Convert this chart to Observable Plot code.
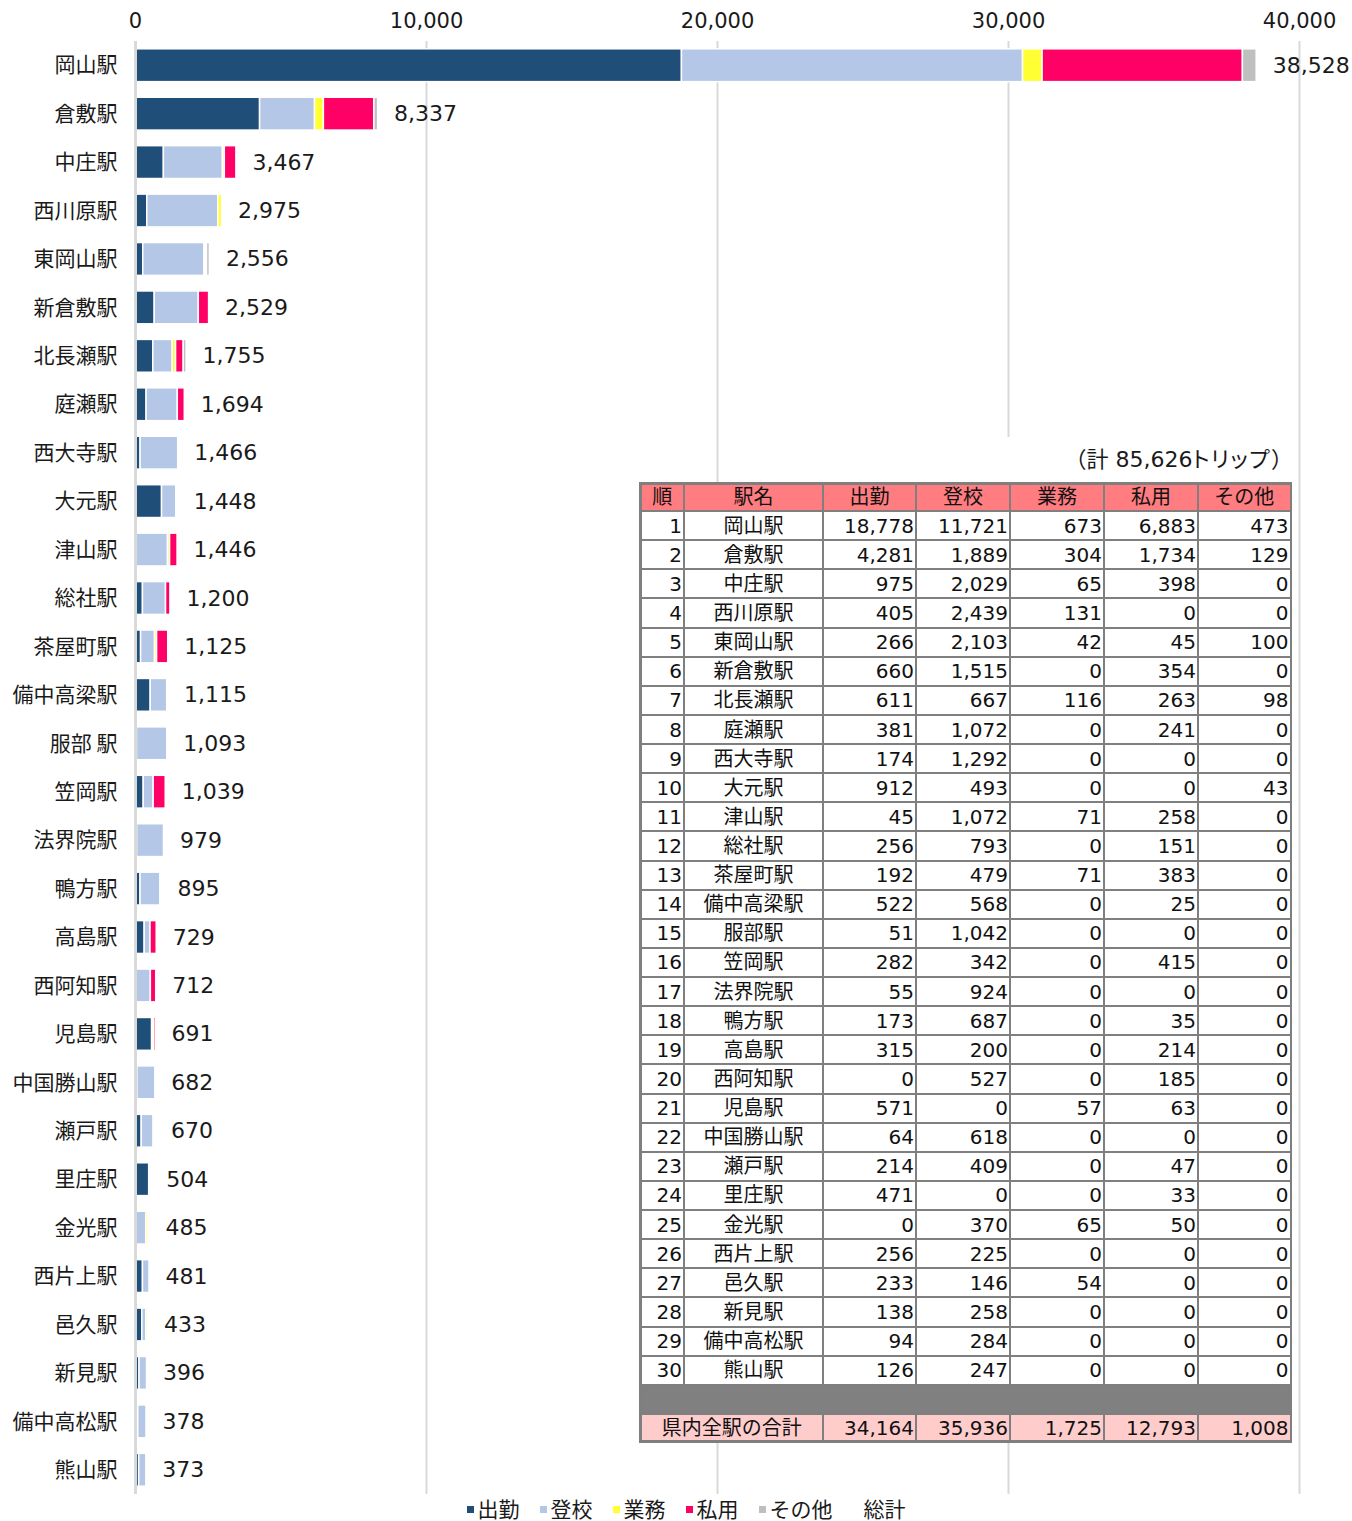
<!DOCTYPE html>
<html><head><meta charset="utf-8">
<script src="https://cdn.jsdelivr.net/npm/d3@7"></script>
<script src="https://cdn.jsdelivr.net/npm/@observablehq/plot@0.6"></script>
<style>
body{margin:0;background:#fff;}
#wrap{position:relative;width:1352px;height:1521px;overflow:hidden;font-family:"DejaVu Sans","Noto Sans CJK JP",sans-serif;color:#1a1a1a;}
#chart{position:absolute;left:0;top:0;}
.cell{position:absolute;box-sizing:border-box;display:flex;align-items:center;font-size:20px;line-height:1;color:#111;white-space:nowrap;}
#legend{position:absolute;left:10px;top:1497px;width:1352px;height:22px;display:flex;justify-content:center;align-items:center;font-family:"Noto Sans CJK JP",sans-serif;font-size:21px;line-height:1;color:#1a1a1a;}
#legend .it{display:flex;align-items:center;margin:0 10px;}
#legend .sw{width:7px;height:7px;margin-right:4px;margin-top:3px;}
#title{position:absolute;left:987px;top:437px;width:306px;height:45px;background:#fff;display:flex;align-items:center;justify-content:flex-end;font-size:22px;line-height:1;}
#title .k{font-feature-settings:"palt";letter-spacing:1.5px;}
</style></head><body><div id="wrap"><div id="chart"></div></div>
<script>
// ---- data ----
const stations = ["岡山駅","倉敷駅","中庄駅","西川原駅","東岡山駅","新倉敷駅","北長瀬駅","庭瀬駅","西大寺駅","大元駅","津山駅","総社駅","茶屋町駅","備中高梁駅","服部 駅","笠岡駅","法界院駅","鴨方駅","高島駅","西阿知駅","児島駅","中国勝山駅","瀬戸駅","里庄駅","金光駅","西片上駅","邑久駅","新見駅","備中高松駅","熊山駅"];
const commute  = [18778,4281,975,405,266,660,611,381,174,912,45,256,192,522,51,282,55,173,315,0,571,64,214,471,0,256,233,138,94,126];
const school   = [11721,1889,2029,2439,2103,1515,667,1072,1292,493,1072,793,479,568,1042,342,924,687,200,527,0,618,409,0,370,225,146,258,284,247];
const business = [673,304,65,131,42,0,116,0,0,0,71,0,71,0,0,0,0,0,0,0,57,0,0,0,65,0,54,0,0,0];
const privateUse = [6883,1734,398,0,45,354,263,241,0,0,258,151,383,25,0,415,0,35,214,185,63,0,47,33,50,0,0,0,0,0];
const other    = [473,129,0,0,100,0,98,0,0,43,0,0,0,0,0,0,0,0,0,0,0,0,0,0,0,0,0,0,0,0];
const purposes = ["出勤","登校","業務","私用","その他"];
const colors   = ["#1F4E79","#B4C7E7","#FFFF33","#FF0066","#BFBFBF"];
const prefTotals = [34164,35936,1725,12793,1008];
const grandTotalParts = ["（計 85,626", "トリップ", "）"];
const totalRowLabel = "県内全駅の合計";
const tableHeader = ["順","駅名","出勤","登校","業務","私用","その他"];
const xTicks = [0,10000,20000,30000,40000];

// ---- build rows ----
const series = [commute, school, business, privateUse, other];
const rows = [];
stations.forEach((s,i)=>{
  purposes.forEach((p,k)=>{ if(series[k][i]>0) rows.push({station:s, purpose:p, value:series[k][i]}); });
});
const totals = stations.map((s,i)=>({station:s, total:d3.sum(series,a=>a[i])}));
const fmt = d3.format(",");

const plot = Plot.plot({
  width:1352, height:1495,
  marginTop:41, marginBottom:1, marginLeft:135, marginRight:53,
  x:{domain:[0,40000], axis:null},
  y:{domain:stations, padding:0, round:false, axis:null},
  color:{domain:purposes, range:colors},
  style:{fontFamily:'"DejaVu Sans","Noto Sans CJK JP",sans-serif', background:"white", color:"#1a1a1a", overflow:"visible"},
  marks:[
    Plot.ruleX(xTicks.slice(1), {stroke:"#d9d9d9", strokeWidth:2}),
    Plot.barX(rows, {x:"value", y:"station", fill:"purpose", stroke:"white", strokeWidth:1.5, insetTop:7.8, insetBottom:7.8}),
    Plot.ruleX([0], {stroke:"#d9d9d9", strokeWidth:3}),
    Plot.axisX(xTicks, {anchor:"top", tickSize:0, tickPadding:14, tickFormat:fmt, fontSize:21, label:null}),
    Plot.axisY(stations, {anchor:"left", tickSize:0, tickPadding:18, fontSize:21, label:null, fontFamily:'"Noto Sans CJK JP",sans-serif'}),
    Plot.text(totals, {x:"total", y:"station", text:d=>fmt(d.total), textAnchor:"start", dx:16, fontSize:22, fill:"#1a1a1a"})
  ]
});
document.getElementById("chart").appendChild(plot);

// ---- table ----
const wrap = document.getElementById("wrap");
const colX = [639,684,823,916,1010,1104,1198,1292];
const top0 = 482, rowH = 961/33;
const bg = document.createElement("div");
Object.assign(bg.style,{position:"absolute",left:colX[0]+"px",top:top0+"px",width:(colX[7]-colX[0])+"px",height:(rowH*33)+"px",background:"#7f7f7f"});
wrap.appendChild(bg);
function cell(c0,c1,r,text,fill,align){
  const d=document.createElement("div");
  d.className="cell";
  const l=colX[c0]+(c0===0?2.5:1), rr=colX[c1]-(c1===7?2.5:1);
  const t=top0+r*rowH+(r===0?2.5:1), b=top0+(r+1)*rowH-(r===32?2.5:1);
  Object.assign(d.style,{left:l+"px",top:t+"px",width:(rr-l)+"px",height:(b-t)+"px",background:fill,
    justifyContent:align==="right"?"flex-end":"center",paddingRight:align==="right"?"1px":"0"});
  d.textContent=text;
  wrap.appendChild(d);
}
tableHeader.forEach((h,c)=>cell(c,c+1,0,h,"#FF7C80","center"));
stations.forEach((s,i)=>{
  const r=i+1;
  cell(0,1,r,String(i+1),"#fff","right");
  cell(1,2,r,s.replace(" ",""),"#fff","center");
  series.forEach((a,k)=>cell(k+2,k+3,r,fmt(a[i]),"#fff","right"));
});
cell(0,7,31,"","#808080","center");
cell(0,2,32,totalRowLabel,"#FFCCCC","center");
prefTotals.forEach((v,k)=>cell(k+2,k+3,32,fmt(v),"#FFCCCC","right"));

const title=document.createElement("div");
title.id="title";
grandTotalParts.forEach((t,i)=>{const sp=document.createElement("span"); if(i===1) sp.className="k"; sp.textContent=t; title.appendChild(sp);});
wrap.appendChild(title);

// ---- legend ----
const lg=document.createElement("div"); lg.id="legend";
purposes.concat(["総計"]).forEach((p,k)=>{
  const it=document.createElement("div"); it.className="it";
  const sw=document.createElement("div"); sw.className="sw"; sw.style.background=k<5?colors[k]:"transparent";
  const tx=document.createElement("span"); tx.textContent=p;
  it.appendChild(sw); it.appendChild(tx); lg.appendChild(it);
});
wrap.appendChild(lg);
</script>
</body></html>
